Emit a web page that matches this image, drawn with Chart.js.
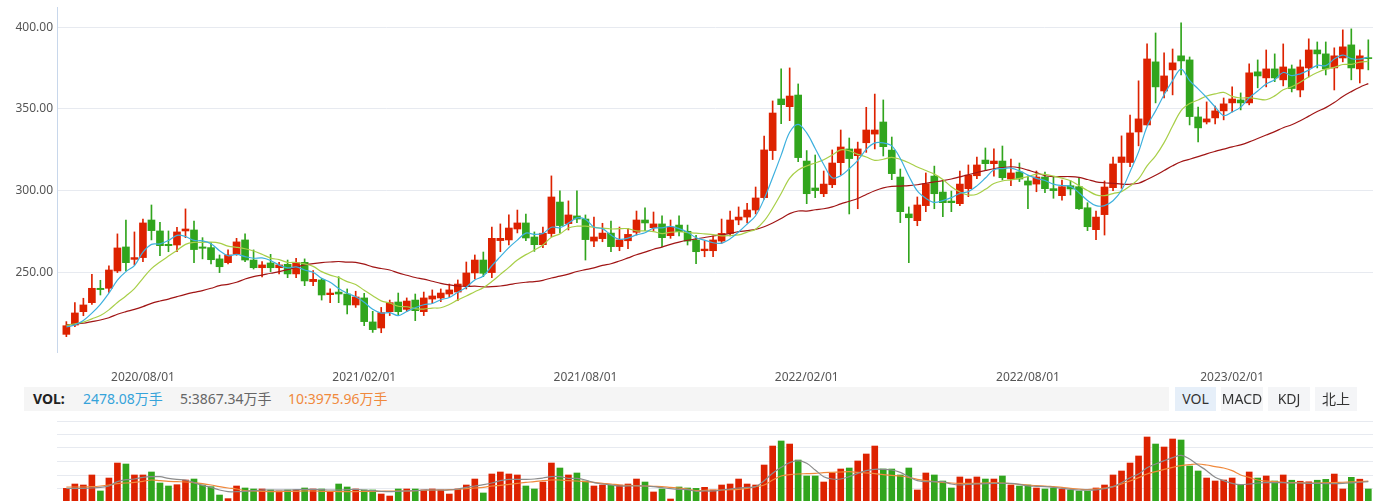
<!DOCTYPE html>
<html><head><meta charset="utf-8">
<script src="https://cdn.jsdelivr.net/npm/chart.js@4.4.1/dist/chart.umd.min.js"></script>
<style>
html,body{margin:0;padding:0;background:#fff;width:1386px;height:501px;overflow:hidden;font-family:"Noto Sans","Noto Sans CJK SC",sans-serif;}
#mainCanvas{position:absolute;left:0;top:0;}
#volCanvas{position:absolute;left:0;top:413px;}
#band{position:absolute;left:24px;top:387px;width:1145px;height:24px;background:#f5f5f5;}
.t{position:absolute;top:387px;height:24px;line-height:24px;font-size:14px;white-space:nowrap;}
.btn{position:absolute;top:387px;height:24px;line-height:24px;font-size:14px;text-align:center;color:#333;background:#f4f5f7;}
</style></head>
<body>
<canvas id="mainCanvas" width="1386" height="390"></canvas>
<div id="band"></div>
<div class="t" style="left:33px;font-weight:bold;color:#222;">VOL:</div>
<div class="t" id="volNow" style="left:83px;color:#35a3da;"></div>
<div class="t" id="volMa5" style="left:180px;color:#666;"></div>
<div class="t" id="volMa10" style="left:288px;color:#f0893c;"></div>
<div class="btn" style="left:1175px;width:41px;background:#e6eff9;">VOL</div>
<div class="btn" style="left:1221px;width:42px;">MACD</div>
<div class="btn" style="left:1268px;width:42px;">KDJ</div>
<div class="btn" style="left:1315px;width:42px;">北上</div>
<canvas id="volCanvas" width="1386" height="97"></canvas>
<script>
// ---------- data (weekly candles, index 0..153) ----------
const tickPos = [9, 35, 61, 87, 113, 137];
const tickLabels = ['2020/08/01','2021/02/01','2021/08/01','2022/02/01','2022/08/01','2023/02/01'];
const yTicks = [250, 300, 350, 400];

const opens = [212.0,217.7,225.9,231.4,240.2,240.2,250.8,265.5,257.9,259.0,
282.0,275.3,267.1,266.7,275.3,275.9,265.5,265.1,258.2,255.9,
261.0,269.8,257.5,252.8,255.7,252.8,254.9,249.0,256.1,244.3,
245.3,236.3,237.9,236.7,230.0,234.3,219.6,215.9,225.9,231.8,
227.3,233.0,225.9,233.6,234.3,236.7,237.9,241.6,249.6,257.5,
249.8,269.4,269.8,276.5,280.2,271.6,266.9,273.7,293.0,279.8,
284.5,282.6,269.1,270.6,274.0,265.7,269.3,274.5,282.0,277.3,
279.6,272.4,278.9,275.1,269.8,263.2,263.2,269.1,273.8,282.0,
283.8,288.1,295.7,324.5,356.1,351.4,358.5,318.1,301.6,298.1,
303.6,317.1,325.5,321.4,329.3,334.6,342.0,324.8,308.3,285.7,
281.6,290.8,308.9,299.1,293.6,292.0,301.2,309.1,318.7,316.5,
318.1,307.1,311.4,305.9,304.0,308.3,301.2,296.9,303.0,302.4,
289.5,276.1,285.3,301.8,317.2,317.2,335.9,340.2,378.8,361.0,
373.9,382.5,380.0,345.1,342.0,344.5,348.8,353.7,355.5,353.7,
372.7,369.0,374.5,367.8,374.5,361.6,375.1,386.1,383.7,375.1,
381.2,389.2,374.5,381.2];
const highs = [219.8,231.4,234.1,248.8,245.1,253.9,273.5,282.0,274.7,282.6,
291.2,280.6,275.3,277.5,288.8,281.4,271.2,268.2,260.6,263.7,
270.8,273.5,263.7,256.5,261.0,256.1,257.5,258.6,258.2,251.0,
246.3,239.8,247.3,239.8,238.4,237.1,226.1,228.5,233.0,237.3,
234.3,236.7,237.9,239.2,239.8,242.8,245.3,256.3,260.6,262.4,
277.7,279.6,285.1,288.1,285.7,274.7,277.7,309.0,299.8,293.7,
299.8,285.1,283.8,280.0,281.4,277.7,276.9,287.5,289.4,286.9,
284.5,282.0,284.5,278.9,272.6,269.3,272.2,282.6,287.5,290.0,
292.2,302.2,333.4,354.9,374.5,375.1,365.3,324.5,321.8,312.0,
324.9,337.1,332.2,329.7,351.0,359.1,355.5,332.8,313.2,290.0,
296.1,310.8,315.0,306.1,299.7,312.0,315.7,320.6,326.1,325.5,
327.3,319.3,316.9,309.1,312.0,311.4,308.5,306.5,306.1,307.7,
292.6,287.5,305.9,320.6,333.5,346.3,367.2,389.8,396.5,384.3,
386.7,402.7,381.8,351.2,354.3,351.8,356.7,363.5,359.8,377.6,
380.0,386.1,383.7,389.8,376.9,380.0,392.9,391.0,391.0,387.4,
398.4,399.0,386.1,392.3];
const lows = [210.6,216.7,223.4,230.4,236.1,237.7,249.8,250.8,254.5,256.5,
269.8,260.2,262.6,262.6,271.2,255.9,258.2,255.1,249.8,255.1,
260.4,256.5,252.0,247.1,250.4,249.0,246.7,246.7,241.8,241.8,
233.0,231.4,231.4,224.5,228.5,217.3,213.2,213.0,223.5,223.9,
225.9,220.4,223.5,231.0,232.0,234.9,232.6,239.8,245.9,247.3,
246.7,262.6,266.7,274.1,269.4,262.8,265.1,271.8,274.1,275.9,
280.4,257.5,265.7,268.7,262.6,263.2,264.5,272.8,275.5,275.5,
265.7,270.8,272.2,266.7,255.3,259.5,259.5,267.7,272.2,279.1,
280.2,285.7,294.7,319.0,341.0,342.8,317.7,292.0,295.7,296.3,
301.8,309.6,285.7,288.9,323.4,325.5,321.2,306.7,280.4,255.9,
278.5,287.1,288.9,284.0,287.1,290.8,296.3,307.3,312.6,308.9,
306.5,303.0,305.5,288.9,299.3,298.7,295.3,294.2,297.3,288.5,
275.5,269.9,272.8,300.0,301.4,314.7,327.4,340.0,353.7,356.7,
358.6,370.8,340.2,329.8,340.8,340.8,343.3,348.2,349.4,352.5,
362.9,363.5,366.7,364.1,360.4,357.4,369.6,375.1,370.8,361.6,
378.8,367.8,365.9,373.9];
const closes = [217.3,225.1,230.0,240.2,239.4,251.4,264.9,255.9,259.0,280.2,
275.5,266.3,266.3,274.7,276.5,263.9,264.7,257.7,253.4,260.6,
268.6,257.5,252.8,254.5,252.8,254.5,249.0,255.9,244.7,245.7,
236.1,237.3,236.7,230.0,234.9,219.8,214.9,225.3,231.4,225.9,
232.4,226.5,234.3,235.5,237.3,239.2,242.8,249.6,257.5,249.4,
270.8,270.8,277.1,280.2,271.0,266.9,273.9,296.1,278.6,285.1,
282.6,270.0,271.6,274.0,265.7,269.8,273.2,282.0,280.2,279.6,
271.2,277.7,274.9,269.1,262.6,264.2,269.8,273.8,282.0,283.8,
288.1,295.5,324.9,347.5,352.6,357.9,320.2,298.1,300.0,304.0,
316.9,326.7,319.6,325.5,337.1,337.1,326.9,310.4,287.1,283.4,
291.2,304.2,298.1,292.6,292.6,304.0,309.5,315.7,316.5,318.1,
307.9,310.8,307.1,303.4,308.3,301.2,300.0,302.4,301.0,288.9,
277.9,283.8,302.2,316.3,320.6,335.3,343.9,380.6,363.5,370.2,
378.2,379.4,345.3,338.4,343.9,348.8,353.1,356.1,353.7,372.1,
370.2,374.5,369.0,375.7,362.5,375.7,386.1,383.7,374.5,382.5,
388.0,375.1,382.5,380.8];
const ma5 = [216.5,217.8,220.5,225.0,230.4,237.2,245.2,250.4,254.1,262.3,
267.1,267.4,269.5,272.6,271.9,269.5,269.2,267.5,263.2,260.1,
261.0,259.6,258.6,258.8,257.2,254.4,252.7,253.3,251.4,250.0,
246.3,243.9,240.1,237.2,235.0,231.7,227.3,225.0,225.3,223.5,
226.0,228.3,230.1,230.9,233.2,234.6,237.8,240.9,245.3,247.7,
254.0,259.6,265.1,269.7,274.0,273.2,273.8,277.6,277.3,280.1,
283.3,282.5,277.6,276.7,272.8,270.2,270.9,272.9,274.2,277.0,
277.2,278.1,276.7,274.5,271.1,269.7,268.1,267.9,270.5,274.7,
279.5,284.6,294.9,308.0,321.7,335.7,340.6,335.3,325.8,316.0,
307.8,309.1,313.4,318.5,325.2,329.2,329.2,327.4,319.7,309.0,
299.8,295.3,292.8,293.9,295.7,298.3,299.4,302.9,307.7,312.8,
313.5,313.8,312.1,309.5,307.5,306.2,304.0,303.1,302.6,298.7,
294.0,290.8,290.8,293.8,300.2,311.6,323.7,339.3,348.8,358.7,
367.3,374.4,367.3,362.3,357.0,351.2,345.9,348.1,351.1,356.8,
361.0,365.3,367.9,372.3,370.4,371.5,373.8,376.7,376.5,380.5,
383.0,380.8,380.5,381.8];
const ma10 = [217.5,218.5,219.5,221.5,223.5,227.0,231.5,235.5,240.0,246.3,
252.2,256.3,259.9,263.4,267.1,268.3,268.3,268.5,267.9,266.0,
265.3,264.4,263.0,261.0,258.7,257.7,256.1,256.0,255.1,253.6,
250.4,248.3,246.7,244.3,242.5,239.0,235.6,232.5,231.2,229.2,
228.9,227.8,227.5,228.1,228.3,230.3,233.1,235.5,238.1,240.5,
244.3,248.7,253.0,257.5,260.8,263.6,266.7,271.4,273.5,277.1,
278.2,278.2,277.6,277.0,276.5,276.7,276.7,275.3,275.4,274.9,
273.7,274.5,274.8,274.3,274.0,273.5,273.1,272.3,272.5,272.9,
274.6,276.4,281.4,289.2,298.2,307.6,312.6,315.1,316.9,318.9,
321.8,324.9,324.4,322.2,320.6,318.5,319.2,320.4,319.1,317.1,
314.5,312.3,310.1,306.8,302.4,299.1,297.3,297.8,300.8,304.3,
305.9,306.6,307.5,308.6,310.1,309.9,308.9,307.6,306.0,303.1,
300.1,297.4,296.9,298.2,299.4,302.8,307.2,315.1,321.3,329.4,
339.5,349.0,353.3,355.5,357.9,359.2,360.1,357.7,356.7,356.9,
356.1,355.6,358.0,361.7,363.6,366.3,369.6,372.3,374.4,375.4,
377.2,377.3,378.6,379.1];
const ma30 = [217.9,218.3,218.8,219.8,220.8,222.2,224.3,225.9,227.3,229.0,
231.0,232.4,233.6,235.1,236.5,237.7,238.8,240.2,241.8,242.6,
243.9,245.9,247.3,248.3,249.4,250.4,251.6,253.0,254.5,255.3,
255.9,256.3,256.6,256.2,256.1,255.0,253.3,252.3,251.4,249.6,
248.2,246.8,245.8,244.5,243.2,242.3,241.6,241.3,241.5,241.1,
241.2,241.6,242.4,243.3,243.9,244.3,245.1,246.5,247.6,248.9,
250.5,251.6,252.7,254.2,255.2,256.9,258.8,260.7,262.3,264.1,
265.4,267.1,268.5,269.6,270.4,271.3,272.2,273.0,273.8,274.9,
275.5,276.3,277.9,280.2,282.9,285.9,287.5,287.5,288.3,288.9,
290.0,291.9,293.5,295.2,297.6,299.9,301.7,302.6,302.8,303.0,
303.6,304.5,305.3,306.1,307.1,308.4,309.7,311.1,312.3,313.4,
314.1,314.6,314.0,312.5,311.0,309.1,308.5,308.6,308.6,308.1,
306.8,305.4,304.8,304.5,304.0,303.9,304.5,306.8,309.4,312.3,
315.2,317.7,319.2,320.8,322.5,324.0,325.4,326.8,328.0,329.8,
331.9,334.0,336.1,338.5,340.3,342.8,345.6,348.4,350.8,353.9,
357.6,360.6,363.3,365.5];
// volume in 万手
const vols = [2600,3430,3240,5150,2100,4570,7430,7240,5150,5150,
5720,3620,3050,3300,4190,4380,3240,2920,1330,640,
3050,2670,2480,2480,2290,2100,2290,2290,2670,2480,
2480,1970,3430,2860,2480,2290,2290,1520,1140,2480,
2480,2480,2290,2480,2290,1520,2480,3240,4380,1720,
5340,5720,5340,5150,3050,2480,3810,7430,6480,5150,
5530,4000,3050,3240,3240,3240,3430,4380,3810,1910,
2480,570,2860,2670,2600,2800,2290,3240,3430,4380,
3430,3240,7050,10670,11630,11050,8000,4960,4960,3810,
5530,6290,6480,7820,9150,10670,6290,6290,5150,6480,
2290,5530,5150,4000,2670,4770,4380,4770,4380,4380,
4960,3240,3050,3240,2670,2480,2670,2480,2290,2100,
2100,2670,3240,5150,5910,7430,8770,12390,11050,10480,
12010,11820,6860,5910,4570,4000,4190,4570,3240,5720,
4570,4960,4000,5150,4150,3960,3850,4150,4313.5,5330,
2480,4700,4348,2478.08];
const volMa5 = [2605,2605,2605,2668,2795,3050,3875,4257,4384,4701,
4828,4828,4511,4320,4193,3685,3177,2795,2287,1969,
1969,2033,2160,2287,2287,2287,2287,2351,2414,2414,
2351,2287,2287,2351,2414,2287,2160,2033,1969,2033,
2097,2160,2287,2287,2287,2287,2478,2795,3050,3304,
3621,4066,4320,4320,4320,4384,4574,4828,4828,4511,
4511,4193,3685,3431,3240,3050,3050,3050,3050,2922,
2732,2541,2414,2351,2033,2097,2097,2287,2478,2668,
2795,2922,4066,5464,6607,7497,7878,7370,6099,4828,
4384,4384,4828,5464,5972,6226,6226,6099,5654,4828,
4066,3875,3875,3875,3431,3240,3367,3431,3494,3558,
3558,3558,3367,3050,2986,2922,2795,2605,2414,2287,
2287,2287,2541,2922,3685,4638,5337,6544,7243,7878,
8450,8895,8196,7052,5972,4701,4066,3558,3304,3431,
3621,3685,3685,3685,3621,3621,3558,3558,3494,3500,
3550,3650,3760,3867.34];
const volMa10 = [2859,2859,2859,2922,3050,3240,3494,3621,3748,3939,
4193,4066,3939,3875,3812,3685,3494,3240,2922,2668,
2478,2160,2097,2033,1969,1969,2033,2033,2097,2097,
2033,2033,1969,1969,1969,2033,2033,2033,2097,2097,
2097,2160,2224,2287,2287,2351,2414,2541,2668,2795,
3050,3177,3367,3558,3748,3875,4066,4193,4193,4066,
4003,3875,3748,3558,3431,3240,3177,3113,3050,2986,
2922,2795,2668,2478,2160,2224,2287,2287,2351,2414,
2605,2922,3240,4193,4956,5210,5337,5400,5464,5591,
5654,5718,5781,5654,5527,5400,5210,5083,4956,4701,
4320,4066,3875,3748,3621,3558,3558,3558,3621,3685,
3621,3494,3367,3240,3113,3050,2922,2795,2605,2478,
2351,2478,2668,2922,3431,4003,4638,5337,5781,6226,
6607,6925,7116,7243,7052,6734,6480,5972,5146,4701,
4193,4003,3875,3748,3685,3685,3621,3600,3650,3700,
3760,3820,3900,3975.96];

// ---------- header text ----------
const last = vols.length - 1;
document.getElementById('volNow').textContent = vols[last].toFixed(2) + '万手';
document.getElementById('volMa5').textContent = '5:' + volMa5[last].toFixed(2) + '万手';
document.getElementById('volMa10').textContent = '10:' + volMa10[last].toFixed(2) + '万手';

const RED = '#dd2200', GREEN = '#31a51d';
const candleColors = closes.map((c, i) => c >= opens[i] ? RED : GREEN);
const pts = arr => arr.map((v, i) => ({x: i, y: v}));
const FONT = '"Noto Sans","Noto Sans CJK SC",sans-serif';
const X_MIN = -1.1, X_MAX = 153.55;

new Chart(document.getElementById('mainCanvas'), {
  type: 'bar',
  data: { datasets: [
    {type:'line', data: pts(ma5), borderColor:'#3db0de', borderWidth:1.2, pointRadius:0, tension:0.35, order:0},
    {type:'line', data: pts(ma10), borderColor:'#a8cf48', borderWidth:1.2, pointRadius:0, tension:0.35, order:0},
    {type:'line', data: pts(ma30), borderColor:'#a01515', borderWidth:1.2, pointRadius:0, tension:0.35, order:0},
    {type:'bar', data: lows.map((l, i) => ({x:i, y:[l, highs[i]]})), backgroundColor: candleColors, barThickness:1, grouped:false, order:2},
    {type:'bar', data: opens.map((o, i) => ({x:i, y:[o, closes[i]]})), backgroundColor: candleColors, barThickness:7, minBarLength:1, grouped:false, order:1}
  ]},
  options: {
    responsive:false, animation:false,
    layout:{padding:{top:7, right:13, left:0, bottom:0}},
    plugins:{legend:{display:false}, tooltip:{enabled:false}},
    scales:{
      x:{type:'linear', min:X_MIN, max:X_MAX, offset:false,
         grid:{display:false, drawTicks:false}, border:{display:false},
         ticks:{autoSkip:false, maxRotation:0, padding:18, color:'#555', font:{family:FONT, size:12},
                callback:(v, idx) => tickLabels[idx]},
         afterBuildTicks: s => { s.ticks = tickPos.map(v => ({value:v})); },
         afterFit: s => { s.height = 38; s.paddingLeft = 0; s.paddingRight = 0; }},
      y:{min:201.2, max:412.4,
         grid:{color:'#e7eaf0', drawTicks:false}, border:{display:true, color:'#c8d7eb'},
         ticks:{padding:4, color:'#555', font:{family:FONT, size:12}, callback: v => Number(v).toFixed(2)},
         afterBuildTicks: s => { s.ticks = yTicks.map(v => ({value:v})); },
         afterFit: s => { s.width = 57; s.paddingTop = 0; s.paddingBottom = 0; }}
    }
  }
});

const VMAX = 15440;
new Chart(document.getElementById('volCanvas'), {
  type: 'bar',
  data: { datasets: [
    {type:'line', data: pts(volMa5), borderColor:'#8c8c8c', borderWidth:1.2, pointRadius:0, tension:0.35, order:0},
    {type:'line', data: pts(volMa10), borderColor:'#f0893c', borderWidth:1.2, pointRadius:0, tension:0.35, order:0},
    {type:'bar', data: pts(vols), backgroundColor: candleColors, barThickness:6, grouped:false, order:1}
  ]},
  options: {
    responsive:false, animation:false,
    layout:{padding:{top:8, right:13, left:0, bottom:8}},
    plugins:{legend:{display:false}, tooltip:{enabled:false}},
    scales:{
      x:{type:'linear', min:X_MIN, max:X_MAX, offset:false, display:false},
      y:{min:0, max:VMAX,
         grid:{color:'#e7eaf0', drawTicks:false}, border:{display:false},
         ticks:{display:false},
         afterBuildTicks: s => { s.ticks = [0,1,2,3,4,5,6].map(k => ({value: VMAX * k / 6})); },
         afterFit: s => { s.width = 57; s.paddingTop = 0; s.paddingBottom = 0; }}
    }
  }
});
</script>
</body></html>
